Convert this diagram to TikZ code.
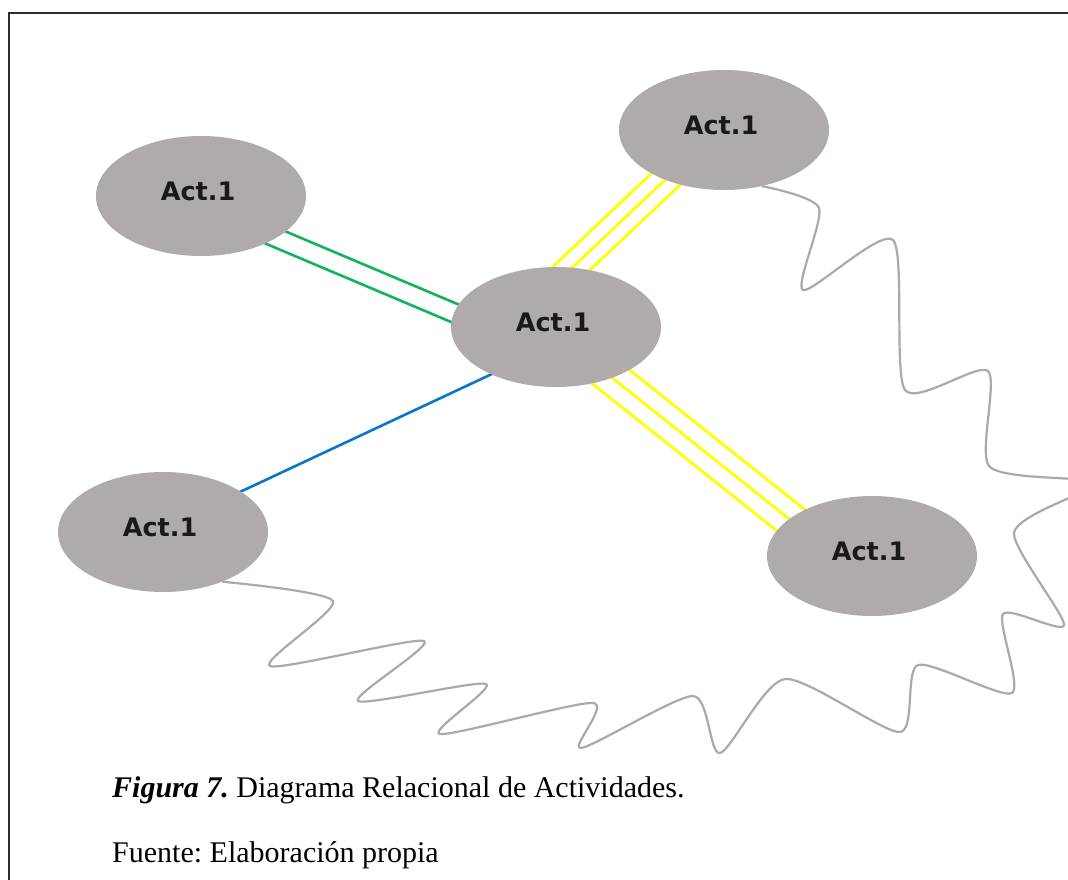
\documentclass[tikz,border=0pt]{standalone}
\usepackage{fontspec}
\setmainfont{Liberation Serif}
\newfontfamily\actfont{DejaVu Sans}
\usetikzlibrary{calc,backgrounds,shapes.geometric}
\definecolor{actgray}{RGB}{174,171,170}
\definecolor{wavegray}{RGB}{172,169,168}
\definecolor{lgreen}{RGB}{20,178,90}
\definecolor{lyellow}{RGB}{255,255,0}
\definecolor{lblue}{RGB}{10,118,200}
\definecolor{framecol}{RGB}{45,45,45}
\begin{document}
\begin{tikzpicture}[x=1pt,y=-1pt,
  act/.style={ellipse, fill=actgray, minimum width=210pt, minimum height=120pt, inner sep=0pt},
  acttext/.style={font=\actfont\bfseries\fontsize{25.5}{30}\selectfont, text=black!90, inner sep=0pt},
  relgreen/.style={draw=lgreen, line width=2.6pt},
  relyellow/.style={draw=lyellow, line width=2.8pt},
  relblue/.style={draw=lblue, line width=2.6pt},
  wave/.style={draw=wavegray, line width=2.2pt},
  caption/.style={anchor=base west, inner sep=0pt, font=\frenchspacing\fontsize{30}{36}\selectfont},
  frame/.style={draw=framecol, line width=1.6pt}
]
\useasboundingbox (0,0) rectangle (1068,880);
\draw[frame] (9,882) -- (9,13) -- (1070,13);

% activities
\node[act] (e1) at (201,196) {};
\node[act] (e2) at (724,130) {};
\node[act] (e3) at (556,327) {};
\node[act] (e4) at (163,532) {};
\node[act] (e5) at (872,556) {};

\foreach \n in {1,...,5}{
  \node[acttext] (t\n) at ([xshift=-3pt,yshift=5pt]e\n.center) {Act.1};
}

% reference points of the connectors
\coordinate (g1) at ($(e1.center)+(0,10)$);
\coordinate (g2) at ($(e3.center)+(0,29)$);
\coordinate (ya1) at ($(e3.center)+(0,-44)$);
\coordinate (ya2) at ($(e2.center)+(0,-6)$);
\coordinate (yb1) at ($(e3.center)+(0,6)$);
\coordinate (yb2) at ($(e5.center)+(0,29)$);
\coordinate (b1) at ($(e3.center)+(0,17)$);
\coordinate (b2) at ($(e4.center)+(0,-4)$);

\begin{scope}[on background layer]
  \fill[white] (0,0) rectangle (1068,880);
  \clip (0,0) rectangle (1068,880);
  % green double relation
  \draw[relgreen] ($(g1)!9.5pt!90:(g2)$) -- ($(g2)!9.5pt!-90:(g1)$);
  \draw[relgreen] ($(g1)!9.5pt!-90:(g2)$) -- ($(g2)!9.5pt!90:(g1)$);
  % yellow triple relation to upper right
  \draw[relyellow] ($(ya1)!14pt!90:(ya2)$) -- ($(ya2)!14pt!-90:(ya1)$);
  \draw[relyellow] (ya1) -- (ya2);
  \draw[relyellow] ($(ya1)!14pt!-90:(ya2)$) -- ($(ya2)!14pt!90:(ya1)$);
  % yellow triple relation to lower right
  \draw[relyellow] ($(yb1)!17pt!90:(yb2)$) -- ($(yb2)!17pt!-90:(yb1)$);
  \draw[relyellow] (yb1) -- (yb2);
  \draw[relyellow] ($(yb1)!17pt!-90:(yb2)$) -- ($(yb2)!17pt!90:(yb1)$);
  % blue single relation
  \draw[relblue] (b1) -- (b2);
  % wavy relation
  \draw[wave] plot[smooth, tension=0.42] coordinates {
     (e2.-56) (819,208) (803,290) (893,240) (905,390) (988,371) (989,466)
     (1078,480) (1078,493) (1014,533) (1064,625) (1003,614) (1012,693)
     (918,665) (900,732) (785,679) (720,753) (693,696) (581,748) (593,703)
     (440,734) (486,684) (358,701) (424,641) (270,666) (333,601) (e4.-40)};
\end{scope}

% caption
\node[caption] (cap1) at (112,797) {\textbf{\textit{Figura 7.}} Diagrama Relacional de Actividades.};
\node[caption] (cap2) at (112,862) {Fuente: Elaboración propia};
\end{tikzpicture}
\end{document}
